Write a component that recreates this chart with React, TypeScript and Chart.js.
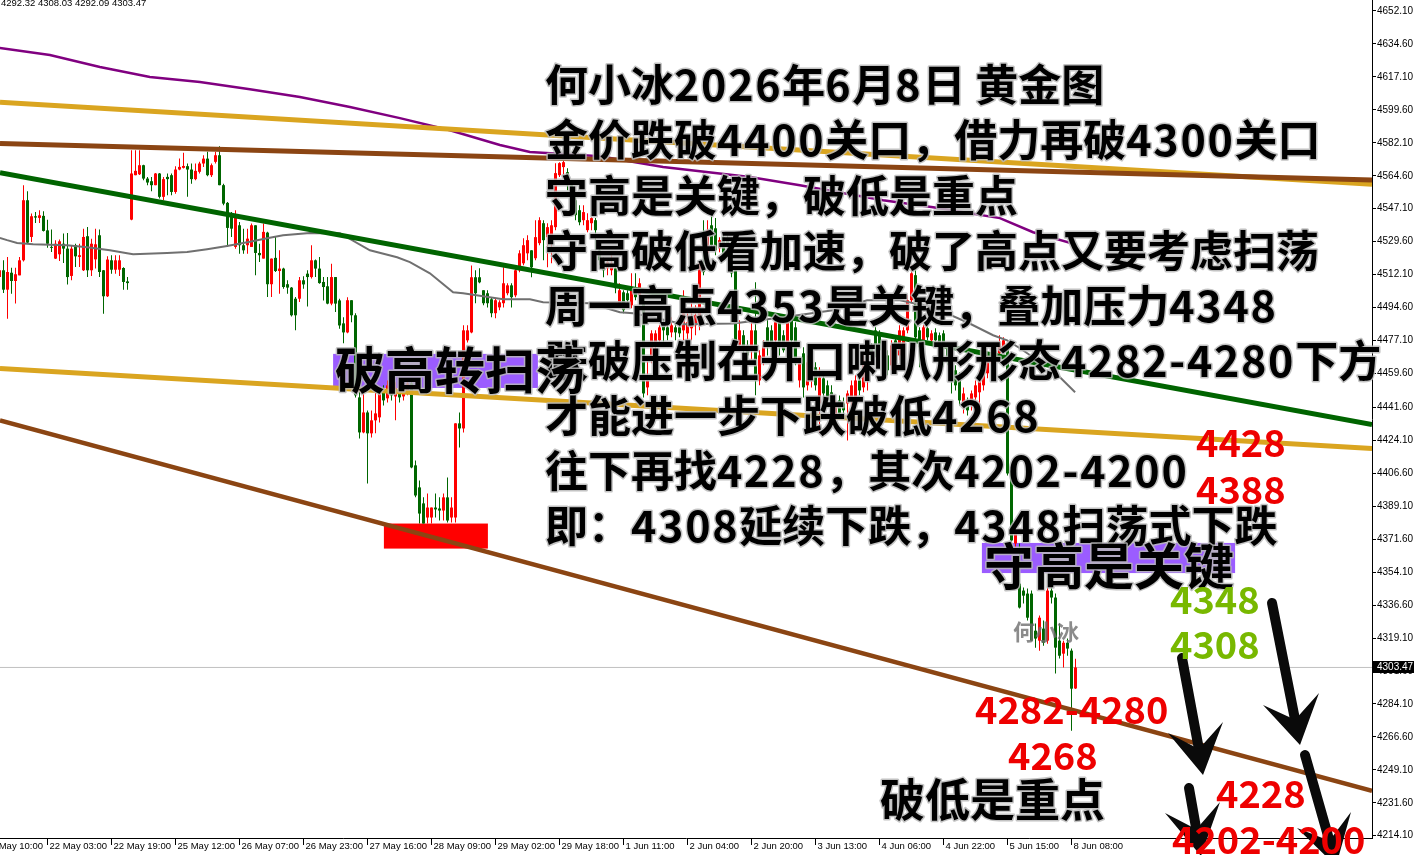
import React, { useEffect, useRef } from "react";
import { Chart, registerables } from "chart.js";

Chart.register(...registerables);

// ---------------- data (H1 candles) ----------------
const opens = [
  4510.8, 4514.4, 4504.1, 4513.1, 4508.7, 4511.7, 4519.7, 4551.6, 4532.1, 4543.1,
  4542.2, 4543.3, 4535.6, 4526.8, 4520.6, 4522.9, 4528.5, 4525.9, 4511.4, 4527.7,
  4521.5, 4514.4, 4532.5, 4514.4, 4520.2, 4533.0, 4514.4, 4500.6, 4519.7, 4514.7,
  4514.7, 4515.6, 4508.5, 4541.3, 4564.9, 4565.4, 4570.2, 4563.1, 4561.7, 4559.6,
  4565.8, 4553.4, 4564.0, 4564.9, 4556.0, 4567.9, 4568.8, 4569.7, 4567.9, 4562.8,
  4566.7, 4571.1, 4573.7, 4564.9, 4572.0, 4575.5, 4559.6, 4550.2, 4543.6, 4526.8,
  4538.3, 4527.7, 4527.7, 4526.8, 4538.3, 4523.6, 4520.6, 4534.4, 4507.0, 4521.0,
  4514.0, 4515.3, 4507.0, 4505.2, 4499.3, 4499.3, 4509.1, 4512.6, 4510.8, 4519.7,
  4515.3, 4508.2, 4505.9, 4496.7, 4510.8, 4498.4, 4486.2, 4481.4, 4498.5, 4490.5,
  4446.9, 4428.3, 4438.9, 4427.8, 4434.7, 4436.3, 4450.6, 4446.4, 4453.3, 4447.4,
  4451.7, 4447.4, 4450.6, 4454.3, 4410.8, 4399.1, 4390.6, 4383.1, 4383.1, 4388.4,
  4387.9, 4386.8, 4393.8, 4383.1, 4383.1, 4433.1, 4430.4, 4477.2, 4481.4, 4510.7,
  4510.7, 4503.8, 4502.2, 4499.0, 4491.6, 4494.7, 4496.9, 4502.2, 4506.4, 4501.1,
  4514.4, 4518.1, 4523.4, 4525.0, 4520.8, 4528.8, 4539.4, 4532.0, 4532.0, 4537.3,
  4564.9, 4569.2, 4566.5, 4559.6, 4551.6, 4546.3, 4541.0, 4535.7, 4539.4, 4541.0,
  4525.0, 4518.1, 4515.5, 4514.4, 4515.5, 4496.9, 4502.7, 4502.2, 4495.8, 4505.4,
  4501.1, 4500.1, 4452.2, 4466.6, 4475.6, 4477.2, 4485.2, 4484.1, 4481.4, 4484.1,
  4484.1, 4482.5, 4480.9, 4483.6, 4485.2, 4486.2, 4517.1, 4523.4, 4538.3, 4536.7,
  4526.1, 4532.0, 4530.4, 4528.8, 4514.4, 4474.5, 4479.9, 4474.5, 4471.9, 4482.5,
  4455.9, 4467.6, 4484.1, 4482.5, 4477.2, 4486.8, 4479.9, 4474.5, 4487.8, 4484.1,
  4455.9, 4470.3, 4453.3, 4455.9, 4462.9, 4443.7, 4457.0, 4453.3, 4449.6, 4437.3,
  4445.3, 4443.7, 4443.7, 4446.9, 4446.9, 4455.9, 4452.2, 4459.6, 4473.5, 4482.5,
  4480.9, 4473.5, 4469.2, 4463.9, 4477.2, 4469.2, 4474.5, 4482.5, 4498.5, 4511.8,
  4482.5, 4477.2, 4483.6, 4477.2, 4481.4, 4479.9, 4480.9, 4474.5, 4466.6, 4461.3,
  4457.5, 4441.6, 4445.3, 4442.6, 4446.9, 4449.6, 4453.3, 4459.7, 4465.5, 4471.9,
  4470.3, 4473.0, 4474.5, 4408.1, 4369.3, 4348.0, 4344.3, 4342.7, 4342.7, 4323.0,
  4317.7, 4324.1, 4317.7, 4344.3, 4340.6, 4317.7, 4310.8, 4316.6, 4312.4, 4292.32,
];
const highs = [
  4515.8, 4519.7, 4521.5, 4515.8, 4515.8, 4521.5, 4559.6, 4556.4, 4544.5, 4545.4,
  4546.3, 4545.7, 4541.3, 4536.0, 4530.3, 4530.7, 4533.9, 4534.2, 4527.7, 4528.5,
  4528.5, 4536.5, 4537.4, 4531.2, 4536.5, 4536.0, 4514.6, 4521.8, 4522.4, 4522.4,
  4522.4, 4516.0, 4510.8, 4578.2, 4578.2, 4578.2, 4570.5, 4564.0, 4564.0, 4566.1,
  4566.1, 4564.0, 4565.8, 4565.8, 4569.7, 4573.7, 4576.8, 4571.1, 4571.1, 4571.1,
  4572.0, 4575.5, 4577.3, 4571.1, 4577.3, 4580.3, 4560.4, 4550.7, 4545.4, 4546.3,
  4540.1, 4536.5, 4536.5, 4539.2, 4538.3, 4528.5, 4539.2, 4534.8, 4520.6, 4532.5,
  4525.0, 4515.8, 4509.1, 4505.5, 4500.2, 4510.8, 4511.2, 4514.4, 4527.7, 4520.1,
  4521.5, 4510.8, 4510.8, 4517.9, 4510.8, 4499.3, 4489.4, 4500.1, 4498.5, 4491.6,
  4450.6, 4450.6, 4440.0, 4440.0, 4450.6, 4452.2, 4453.3, 4455.9, 4455.9, 4454.9,
  4455.9, 4457.0, 4457.0, 4455.9, 4413.4, 4402.8, 4393.8, 4395.9, 4388.4, 4395.9,
  4393.8, 4395.9, 4404.4, 4393.8, 4433.1, 4438.9, 4485.2, 4485.2, 4517.0, 4514.4,
  4515.5, 4503.8, 4503.8, 4500.1, 4499.6, 4498.5, 4516.0, 4507.5, 4507.5, 4515.5,
  4525.0, 4531.4, 4533.0, 4525.0, 4541.0, 4542.6, 4541.0, 4539.4, 4541.0, 4571.3,
  4571.8, 4572.9, 4568.6, 4562.3, 4554.3, 4549.0, 4549.0, 4544.7, 4542.6, 4542.1,
  4527.7, 4521.3, 4520.8, 4522.4, 4516.0, 4507.5, 4503.8, 4503.8, 4512.8, 4512.8,
  4510.2, 4501.1, 4466.6, 4482.5, 4482.5, 4485.2, 4487.8, 4486.2, 4489.4, 4486.2,
  4485.2, 4503.8, 4493.2, 4498.5, 4495.8, 4518.7, 4541.0, 4541.0, 4547.4, 4542.1,
  4532.0, 4534.1, 4533.0, 4532.0, 4516.0, 4487.8, 4482.5, 4477.2, 4487.8, 4508.0,
  4471.9, 4477.2, 4487.8, 4485.2, 4488.9, 4490.5, 4482.5, 4490.5, 4488.9, 4486.8,
  4468.1, 4473.5, 4469.2, 4466.6, 4465.5, 4462.9, 4458.6, 4455.9, 4453.3, 4445.3,
  4447.9, 4446.9, 4450.6, 4455.9, 4458.6, 4457.5, 4469.2, 4477.2, 4475.6, 4484.1,
  4482.5, 4475.6, 4471.9, 4477.2, 4479.9, 4485.2, 4484.1, 4501.1, 4517.1, 4516.0,
  4484.1, 4485.2, 4485.2, 4482.5, 4483.6, 4481.4, 4482.5, 4476.1, 4468.2, 4463.9,
  4460.2, 4452.2, 4446.9, 4450.6, 4455.9, 4461.3, 4465.5, 4469.2, 4473.5, 4473.5,
  4479.9, 4478.8, 4475.6, 4409.2, 4377.8, 4369.3, 4345.9, 4345.4, 4344.3, 4326.8,
  4331.0, 4328.4, 4345.9, 4348.0, 4342.7, 4326.8, 4317.7, 4318.8, 4313.5, 4308.03,
];
const lows = [
  4510.0, 4502.3, 4488.7, 4502.0, 4496.7, 4511.7, 4519.0, 4528.5, 4529.4, 4539.5,
  4539.5, 4535.0, 4526.4, 4524.1, 4520.4, 4519.3, 4518.3, 4506.9, 4509.1, 4516.1,
  4516.1, 4514.0, 4510.8, 4511.4, 4515.3, 4510.8, 4491.3, 4500.2, 4512.6, 4512.6,
  4511.4, 4504.1, 4504.1, 4541.0, 4564.9, 4565.0, 4562.2, 4559.6, 4556.4, 4559.6,
  4552.5, 4551.6, 4554.2, 4554.2, 4555.1, 4567.5, 4568.4, 4553.4, 4560.4, 4562.2,
  4565.8, 4569.3, 4564.4, 4564.0, 4571.1, 4559.6, 4548.9, 4526.8, 4532.1, 4525.9,
  4523.2, 4523.2, 4523.2, 4526.8, 4511.7, 4518.8, 4520.6, 4500.2, 4500.2, 4513.5,
  4502.0, 4504.6, 4502.0, 4489.9, 4482.5, 4497.6, 4504.6, 4495.2, 4510.0, 4510.8,
  4507.3, 4498.4, 4496.3, 4495.8, 4492.2, 4483.4, 4475.6, 4480.9, 4486.8, 4446.9,
  4425.1, 4427.8, 4401.2, 4425.6, 4427.8, 4433.6, 4442.6, 4444.2, 4445.3, 4434.7,
  4444.2, 4445.3, 4448.0, 4409.2, 4393.8, 4379.9, 4379.9, 4379.9, 4379.9, 4383.1,
  4381.5, 4381.5, 4380.4, 4380.4, 4380.4, 4420.3, 4428.3, 4476.1, 4480.9, 4496.9,
  4507.5, 4495.8, 4494.7, 4489.4, 4488.9, 4493.2, 4494.7, 4501.1, 4494.7, 4500.1,
  4513.4, 4517.1, 4519.7, 4510.7, 4519.7, 4527.7, 4519.7, 4516.0, 4518.1, 4535.7,
  4563.9, 4563.9, 4556.9, 4546.3, 4541.0, 4538.3, 4538.3, 4534.6, 4535.7, 4525.0,
  4517.1, 4510.7, 4511.8, 4511.8, 4502.2, 4494.7, 4491.6, 4495.8, 4494.2, 4498.5,
  4496.9, 4446.9, 4448.0, 4465.0, 4471.9, 4474.5, 4475.6, 4477.2, 4478.8, 4477.2,
  4478.8, 4477.2, 4477.2, 4477.2, 4479.9, 4482.5, 4511.8, 4520.8, 4525.0, 4522.4,
  4524.0, 4519.7, 4525.0, 4510.7, 4471.9, 4471.9, 4470.3, 4466.6, 4466.6, 4448.0,
  4453.3, 4463.9, 4469.2, 4471.9, 4474.5, 4469.2, 4470.8, 4471.9, 4474.5, 4463.9,
  4452.2, 4446.9, 4450.6, 4452.2, 4450.6, 4427.8, 4446.4, 4442.6, 4442.6, 4434.7,
  4435.7, 4437.3, 4424.0, 4442.6, 4445.3, 4448.0, 4449.6, 4450.6, 4463.9, 4468.2,
  4469.2, 4460.2, 4458.6, 4461.3, 4463.9, 4466.6, 4471.9, 4480.9, 4496.9, 4477.2,
  4462.9, 4475.6, 4477.2, 4475.6, 4473.5, 4471.9, 4462.9, 4463.9, 4449.0, 4450.6,
  4442.6, 4438.4, 4437.3, 4440.0, 4444.2, 4440.0, 4450.6, 4457.0, 4463.9, 4465.5,
  4468.2, 4470.8, 4405.4, 4368.2, 4367.2, 4334.8, 4337.4, 4328.4, 4317.7, 4314.0,
  4312.4, 4315.0, 4316.1, 4337.4, 4300.2, 4308.2, 4303.4, 4309.7, 4269.9, 4292.09,
];
const closes = [
  4514.4, 4504.1, 4513.5, 4508.7, 4512.3, 4519.7, 4551.6, 4529.1, 4543.1, 4542.4,
  4543.6, 4535.3, 4528.5, 4526.3, 4528.5, 4529.8, 4525.9, 4510.8, 4525.9, 4521.8,
  4522.4, 4532.1, 4514.4, 4528.5, 4528.2, 4513.5, 4500.6, 4520.1, 4514.7, 4519.7,
  4519.7, 4508.2, 4507.6, 4565.8, 4567.2, 4570.2, 4563.1, 4561.0, 4559.6, 4565.8,
  4553.4, 4562.8, 4562.8, 4556.0, 4567.9, 4569.3, 4569.8, 4567.9, 4562.8, 4567.2,
  4571.1, 4573.7, 4564.9, 4570.2, 4575.5, 4559.6, 4549.8, 4536.9, 4536.5, 4543.1,
  4527.7, 4525.0, 4531.2, 4538.3, 4523.6, 4522.4, 4534.8, 4507.0, 4520.6, 4514.0,
  4515.3, 4505.5, 4505.2, 4490.5, 4490.5, 4509.1, 4506.9, 4510.8, 4519.7, 4515.3,
  4507.6, 4505.5, 4496.7, 4510.8, 4496.7, 4485.1, 4481.4, 4498.5, 4490.5, 4448.0,
  4428.3, 4438.9, 4427.8, 4434.7, 4438.4, 4450.6, 4445.3, 4453.3, 4448.0, 4451.7,
  4446.9, 4453.3, 4454.3, 4409.7, 4394.8, 4385.2, 4379.9, 4388.4, 4388.4, 4387.4,
  4386.8, 4393.8, 4381.5, 4388.4, 4433.1, 4430.4, 4482.5, 4482.5, 4510.7, 4502.2,
  4508.0, 4496.9, 4496.9, 4491.6, 4498.5, 4497.4, 4507.5, 4506.4, 4500.1, 4514.4,
  4523.4, 4527.7, 4530.4, 4516.0, 4532.0, 4541.0, 4530.4, 4537.3, 4538.3, 4566.0,
  4571.3, 4571.8, 4559.6, 4551.6, 4543.7, 4539.9, 4545.3, 4541.0, 4542.1, 4535.7,
  4519.7, 4514.4, 4518.7, 4518.1, 4504.9, 4503.8, 4493.2, 4498.5, 4505.4, 4500.1,
  4507.5, 4449.0, 4455.9, 4480.9, 4480.9, 4484.1, 4482.5, 4479.9, 4485.2, 4481.4,
  4480.9, 4491.6, 4486.8, 4487.8, 4490.5, 4518.1, 4513.4, 4535.7, 4527.7, 4525.0,
  4530.4, 4521.3, 4527.7, 4512.8, 4474.5, 4482.5, 4471.9, 4469.2, 4482.5, 4455.9,
  4469.2, 4474.5, 4474.5, 4474.5, 4486.8, 4474.5, 4471.9, 4486.8, 4477.2, 4465.0,
  4465.0, 4452.2, 4465.5, 4462.9, 4453.3, 4457.5, 4449.0, 4445.3, 4445.3, 4443.7,
  4438.4, 4440.0, 4449.0, 4453.3, 4455.9, 4450.6, 4466.6, 4473.5, 4466.6, 4473.5,
  4471.9, 4462.9, 4461.3, 4474.5, 4466.6, 4482.5, 4482.5, 4498.5, 4512.8, 4478.8,
  4473.5, 4484.1, 4478.8, 4480.9, 4477.2, 4474.5, 4473.5, 4465.5, 4457.5, 4453.3,
  4445.3, 4449.0, 4440.0, 4449.0, 4453.3, 4458.6, 4462.9, 4466.6, 4470.3, 4468.2,
  4475.6, 4477.2, 4406.5, 4370.9, 4374.6, 4335.3, 4341.6, 4329.9, 4317.7, 4318.8,
  4329.9, 4316.6, 4344.3, 4340.6, 4314.0, 4309.7, 4316.6, 4313.5, 4292.2, 4303.47,
];

// moving averages: [bar index, price]
const purpleMA = [
  [0.1, 4632.4], [12.6, 4628.7], [25.1, 4622.4], [37.6, 4617.0], [50.1, 4614.4],
  [62.6, 4610.6], [75.1, 4606.4], [87.6, 4601.1], [100.1, 4595.2], [112.6, 4588.8],
  [125.1, 4580.9], [132.6, 4577.2], [150.1, 4575.0], [165.9, 4569.2], [187.6, 4563.9],
  [200.1, 4559.6], [220.9, 4551.6], [233.4, 4547.9], [250.1, 4542.1], [258.4, 4534.6],
  [262.6, 4532.0], [268.9, 4528.2],
];
const grayMA = [
  [0.1, 4531.6], [1.9, 4530.4], [4.4, 4528.9], [8.4, 4528.2], [16.9, 4527.7],
  [21.9, 4526.6], [27.6, 4525.0], [31.9, 4523.4], [33.4, 4522.9], [41.9, 4523.6],
  [46.9, 4524.1], [51.9, 4525.6], [56.9, 4527.3], [62.6, 4529.5], [66.9, 4531.4],
  [70.9, 4533.0], [77.6, 4534.2], [85.1, 4534.1], [92.6, 4525.0], [99.4, 4521.3],
  [102.6, 4518.7], [107.6, 4512.8], [113.4, 4502.7], [115.9, 4502.2], [125.9, 4499.0],
  [132.6, 4499.0], [135.9, 4497.4], [147.6, 4496.9], [155.1, 4492.1], [158.4, 4491.6],
  [166.9, 4487.8], [170.9, 4485.7], [183.4, 4486.2], [195.9, 4489.4], [208.4, 4493.2],
  [216.9, 4498.5], [225.1, 4498.5], [233.4, 4494.7], [241.9, 4486.8], [248.4, 4479.9],
  [251.9, 4477.2], [255.1, 4473.0], [258.4, 4468.2], [262.6, 4462.9], [268.9, 4449.6],
];

// trend lines: price at left edge, price at right edge
const goldUpper = [4603.7, 4560.1];
const brownUpper = [4581.7, 4562.3];
const greenTrend = [4566.2, 4432.5];
const goldLower = [4462.3, 4419.8];
const brownLower = [4434.7, 4237.9];

// zones: [fromIndex, toIndex, priceA, priceB]
const redZone = [96.1, 122.1, 4379.9, 4366.6];
const purpleZoneA = [83.4, 134.6, 4470.0, 4451.9];
const purpleZoneB = [245.6, 308.9, 4369.6, 4353.6];

const lastPrice = 4303.47;
const ohlcHeader = "4292.32 4308.03 4292.09 4303.47";

const yTickValues = [
  4652.1, 4634.6, 4617.1, 4599.6, 4582.1, 4564.6, 4547.1, 4529.6, 4512.1, 4494.6,
  4477.1, 4459.6, 4441.6, 4424.1, 4406.6, 4389.1, 4371.6, 4354.1, 4336.6, 4319.1,
  4301.6, 4284.1, 4266.6, 4249.1, 4231.6, 4214.1,
];
const xTickIndex = [-4, 12, 28, 44, 60, 76, 92, 108, 124, 140, 156, 172, 188, 204, 220, 236, 252, 268];
const xTickLabels = [
  "21 May 10:00", "22 May 03:00", "22 May 19:00", "25 May 12:00", "26 May 07:00", "26 May 23:00",
  "27 May 16:00", "28 May 09:00", "29 May 02:00", "29 May 18:00", "1 Jun 11:00", "2 Jun 04:00",
  "2 Jun 20:00", "3 Jun 13:00", "4 Jun 06:00", "4 Jun 22:00", "5 Jun 15:00", "8 Jun 08:00",
];

const noteLines = [
  "何小冰2026年6月8日 黄金图",
  "金价跌破4400关口，借力再破4300关口",
  "守高是关键，破低是重点",
  "守高破低看加速，破了高点又要考虑扫荡",
  "周一高点4353是关键，叠加压力4348",
  "跌破压制在开口喇叭形形态4282-4280下方",
  "才能进一步下跌破低4268",
  "往下再找4228，其次4202-4200",
  "即：4308延续下跌，4348扫荡式下跌",
];

// ---------------- styling / layout ----------------
const X_MIN = 0.125;
const X_MAX = 343.125;
const Y_MIN = 4212.9;
const Y_MAX = 4657.94;
const RED = "#ff0000";
const GREEN = "#006600";
const LABEL_RED = "#ee0000";
const LABEL_GREEN = "#78b800";
const PURPLE_BOX = "#9b5cff";
const CJK = '"Noto Sans CJK SC", "Noto Sans", sans-serif';
const AXIS_FONT = "Liberation Sans";
const DIGIT_EXTRA = 1.7;

const labels = [
  { t: "破高转扫荡", x: 335, y: 370, s: 50, c: "#000", halo: true },
  { t: "守高是关键", x: 984, y: 566, s: 50, c: "#000", halo: true },
  { t: "破低是重点", x: 880, y: 800, s: 45, c: "#000", halo: true },
  { t: "4428", x: 1196, y: 443, s: 38, c: LABEL_RED, halo: false },
  { t: "4388", x: 1196, y: 490, s: 38, c: LABEL_RED, halo: false },
  { t: "4348", x: 1170, y: 600, s: 38, c: LABEL_GREEN, halo: false },
  { t: "4308", x: 1170, y: 645, s: 38, c: LABEL_GREEN, halo: false },
  { t: "4282-4280", x: 975, y: 710, s: 38, c: LABEL_RED, halo: false },
  { t: "4268", x: 1008, y: 756, s: 38, c: LABEL_RED, halo: false },
  { t: "4228", x: 1216, y: 794, s: 38, c: LABEL_RED, halo: false },
  { t: "4202-4200", x: 1172, y: 840, s: 38, c: LABEL_RED, halo: false },
];

// arrows: start x,y, tip x,y, left barb x,y, right barb x,y (pixels)
const arrows = [
  [1272, 603, 1300, 745, 1263, 705, 1319, 693],
  [1182, 658, 1203, 775, 1168, 733, 1223, 722],
  [1189, 788, 1201, 856, 1165, 813, 1220, 802],
  [1305, 755, 1336, 866, 1297, 828, 1351, 812],
];

export default function App() {
  const ref = useRef<HTMLCanvasElement>(null);

  useEffect(() => {
    document.body.style.margin = "0";
    document.body.style.background = "#ffffff";
    const canvas = ref.current;
    if (!canvas) return;

    const idx = opens.map((_, i) => i);
    const colors = idx.map((i) => (closes[i] >= opens[i] ? RED : GREEN));
    const seg = (a: number[]) => [
      { x: X_MIN, y: a[0] },
      { x: X_MAX, y: a[1] },
    ];
    const pts = (arr: number[][]) => arr.map((p) => ({ x: p[0], y: p[1] }));
    const lineDs = (data: any[], color: string, width: number, order: number) => ({
      type: "line",
      data,
      borderColor: color,
      backgroundColor: color,
      borderWidth: width,
      pointRadius: 0,
      pointHoverRadius: 0,
      tension: 0,
      fill: false,
      order,
    });

    const overlay = {
      id: "overlay",
      beforeDatasetsDraw(chart: any) {
        const { ctx } = chart;
        const xs = chart.scales.x;
        const ys = chart.scales.y;
        const rect = (b: number[], color: string) => {
          const x1 = xs.getPixelForValue(b[0]);
          const x2 = xs.getPixelForValue(b[1]);
          const y1 = ys.getPixelForValue(b[2]);
          const y2 = ys.getPixelForValue(b[3]);
          ctx.fillStyle = color;
          ctx.fillRect(Math.min(x1, x2), Math.min(y1, y2), Math.abs(x2 - x1), Math.abs(y2 - y1));
        };
        ctx.save();
        rect(purpleZoneA, PURPLE_BOX);
        rect(purpleZoneB, PURPLE_BOX);
        rect(redZone, RED);
        ctx.restore();
      },
      afterDatasetsDraw(chart: any) {
        const { ctx } = chart;
        const ys = chart.scales.y;
        ctx.save();

        // arrows
        ctx.fillStyle = "#0a0a0a";
        ctx.strokeStyle = "#0a0a0a";
        for (const a of arrows) {
          const [sx, sy, tx, ty, lx, ly, rx, ry] = a;
          const mx = (lx + rx) / 2;
          const my = (ly + ry) / 2;
          const nx = tx + (mx - tx) * 0.55;
          const ny = ty + (my - ty) * 0.55;
          ctx.lineWidth = 10;
          ctx.lineCap = "round";
          ctx.beginPath();
          ctx.moveTo(sx, sy);
          ctx.lineTo(nx, ny);
          ctx.stroke();
          ctx.beginPath();
          ctx.moveTo(lx, ly);
          ctx.lineTo(tx, ty);
          ctx.lineTo(rx, ry);
          ctx.lineTo(nx, ny);
          ctx.closePath();
          ctx.fill();
        }

        const draw = (t: string, x: number, y: number, s: number, c: string, halo: boolean, extra: number) => {
          ctx.font = `bold ${s}px ${CJK}`;
          ctx.textBaseline = "middle";
          ctx.textAlign = "left";
          ctx.lineJoin = "round";
          ctx.lineWidth = 3;
          ctx.strokeStyle = "rgba(185,185,185,0.85)";
          ctx.fillStyle = c;
          if (extra === 0) {
            if (halo) ctx.strokeText(t, x, y);
            ctx.fillText(t, x, y);
            return;
          }
          // draw char by char, widening digits slightly
          const chars = Array.from(t);
          let cx = x;
          const pos: number[] = [];
          for (const ch of chars) {
            pos.push(cx);
            cx += ctx.measureText(ch).width + (/[0-9\-]/.test(ch) ? extra : 0);
          }
          if (halo) chars.forEach((ch, k) => ctx.strokeText(ch, pos[k], y));
          chars.forEach((ch, k) => ctx.fillText(ch, pos[k], y));
        };

        // watermark
        ctx.font = `bold 22px ${CJK}`;
        ctx.textBaseline = "middle";
        ctx.fillStyle = "rgba(110,110,110,0.8)";
        ctx.fillText("何小冰", 1013, 632);

        noteLines.forEach((t, k) => draw(t, 545, 85 + k * 55.1, 43, "#000", true, DIGIT_EXTRA));
        for (const l of labels) draw(l.t, l.x, l.y, l.s, l.c, l.halo, 0);

        // header OHLC
        ctx.font = `9.5px ${AXIS_FONT}`;
        ctx.textBaseline = "top";
        ctx.fillStyle = "#000";
        ctx.fillText(ohlcHeader, 1, -1);

        // last price box
        const py = ys.getPixelForValue(lastPrice);
        ctx.font = `10px ${AXIS_FONT}`;
        ctx.fillStyle = "#000";
        ctx.fillRect(1373, Math.round(py) - 6, 41, 12);
        ctx.fillStyle = "#fff";
        ctx.textBaseline = "middle";
        ctx.fillText(lastPrice.toFixed(2), 1377, Math.round(py) + 0.5);
        ctx.restore();
      },
    };

    const chart = new Chart(canvas, {
      type: "bar",
      data: {
        datasets: [
          {
            type: "bar",
            data: idx.map((i) => ({ x: i, y: [lows[i], highs[i]] })),
            backgroundColor: colors,
            barThickness: 1,
            grouped: false,
            inflateAmount: 0,
            borderWidth: 0,
            order: 20,
          },
          {
            type: "bar",
            data: idx.map((i) => ({ x: i, y: [opens[i], closes[i]] })),
            backgroundColor: colors,
            barThickness: 3,
            minBarLength: 1,
            grouped: false,
            inflateAmount: 0,
            borderWidth: 0,
            order: 19,
          },
          lineDs([{ x: X_MIN, y: lastPrice }, { x: X_MAX, y: lastPrice }], "#c0c0c0", 1, 25),
          lineDs(pts(grayMA), "#707070", 2, 8),
          lineDs(pts(purpleMA), "#800080", 2.5, 7),
          lineDs(seg(goldUpper), "#daa520", 5, 5),
          lineDs(seg(brownUpper), "#8b4513", 5, 4),
          lineDs(seg(greenTrend), "#006400", 5, 3),
          lineDs(seg(goldLower), "#daa520", 5, 2),
          lineDs(seg(brownLower), "#8b4513", 4.5, 1),
        ] as any,
      },
      options: {
        responsive: false,
        maintainAspectRatio: false,
        animation: false,
        devicePixelRatio: 1,
        events: [],
        layout: { padding: 0 },
        plugins: {
          legend: { display: false },
          tooltip: { enabled: false },
          title: { display: false },
        },
        scales: {
          x: {
            type: "linear",
            position: "bottom",
            min: X_MIN,
            max: X_MAX,
            offset: false,
            bounds: "data",
            grid: { drawOnChartArea: false, drawTicks: true, tickLength: 7, color: "#000", offset: false },
            border: { display: true, color: "#000", width: 1 },
            ticks: {
              autoSkip: false,
              maxRotation: 0,
              minRotation: 0,
              align: "start",
              labelOffset: 2,
              padding: -4,
              color: "#000",
              font: { family: AXIS_FONT, size: 9.5 },
              callback: (v: any) => {
                const k = xTickIndex.indexOf(Number(v));
                return k >= 0 ? xTickLabels[k] : "";
              },
            },
            afterBuildTicks: (s: any) => {
              s.ticks = xTickIndex.map((v) => ({ value: v }));
            },
            afterFit: (s: any) => {
              s.height = 17;
              s.paddingLeft = 0;
              s.paddingRight = 0;
            },
          },
          y: {
            type: "linear",
            position: "right",
            min: Y_MIN,
            max: Y_MAX,
            bounds: "data",
            beginAtZero: false,
            grid: { drawOnChartArea: false, drawTicks: true, tickLength: 4, color: "#000" },
            border: { display: true, color: "#000", width: 1 },
            ticks: {
              autoSkip: false,
              padding: 1,
              color: "#000",
              font: { family: AXIS_FONT, size: 10 },
              callback: (v: any) => Number(v).toFixed(2),
            },
            afterBuildTicks: (s: any) => {
              s.ticks = yTickValues.map((v) => ({ value: v }));
            },
            afterFit: (s: any) => {
              s.width = 42;
              s.paddingTop = 0;
              s.paddingBottom = 0;
            },
          },
        },
      } as any,
      plugins: [overlay],
    });

    return () => chart.destroy();
  }, []);

  return (
    <div style={{ width: 1414, height: 855, overflow: "hidden", background: "#fff" }}>
      <canvas ref={ref} width={1414} height={855} style={{ display: "block", width: 1414, height: 855 }} />
    </div>
  );
}
